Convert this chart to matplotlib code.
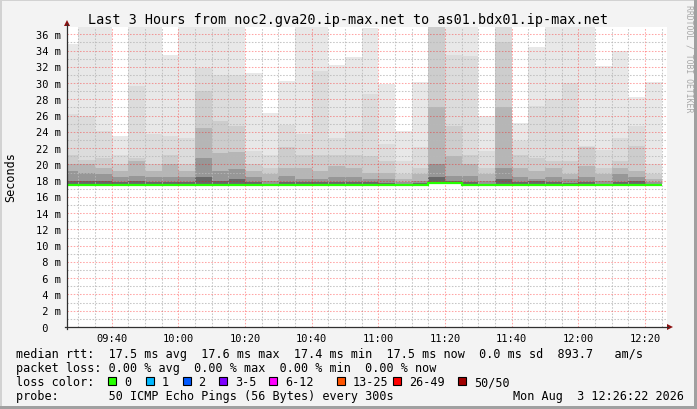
import numpy as np
import matplotlib.pyplot as plt
import matplotlib.transforms as mtransforms
from matplotlib.patches import Rectangle, Polygon
from matplotlib.lines import Line2D

W, H = 697, 410
MONO = 'DejaVu Sans Mono'

# 5 minute buckets, first one starts 09:25, values in ms
first_bucket = 9 * 60 + 25
bucket_len = 5
view_start = 566.6          # 09:26:36, 3 hours window
view_end = view_start + 180

smoke_min = [17.4] * 22 + [17.6, 17.6] + [17.4] * 12
smoke_max = [34.8, 42, 42, 23.5, 42, 42, 33.5, 42, 42, 42, 42, 31.2,
             26.3, 30.3, 42, 42, 32.2, 33.2, 36.8, 29.9, 24.1, 30.1, 42, 42,
             42, 26.0, 42, 25.1, 34.4, 42, 42, 42, 32.1, 34.0, 28.3, 30.1]
layer1 = [26.2, 26.0, 24.1, 21.2, 29.6, 23.7, 23.5, 23.3, 31.9, 31.0, 31.0, 21.6,
          21.2, 24.9, 23.7, 31.5, 23.3, 24.1, 28.6, 22.5, 20.4, 22.1, 41.0, 33.5,
          33.3, 21.6, 41.0, 22.9, 27.2, 28.0, 30.0, 22.3, 21.8, 23.3, 24.7, 20.0]
layer2 = [21.2, 20.6, 20.8, 20.0, 20.8, 20.0, 21.2, 20.0, 29.0, 25.3, 24.7, 20.0,
          19.6, 22.1, 21.2, 21.2, 21.2, 21.2, 21.0, 20.4, 18.8, 19.6, 40.0, 24.7,
          21.2, 19.6, 35.0, 21.2, 20.8, 20.4, 20.4, 22.2, 19.6, 20.4, 22.3, 18.8]
layer3 = [20.0, 20.0, 19.6, 19.2, 20.4, 19.2, 20.0, 19.2, 24.5, 21.4, 21.5, 19.2,
          18.8, 19.6, 19.6, 19.2, 19.8, 19.6, 19.0, 19.0, 18.2, 18.8, 27.0, 21.0,
          20.0, 18.8, 27.0, 19.6, 19.2, 19.6, 18.8, 19.8, 18.8, 19.6, 19.2, 18.2]
layer4 = [19.2, 19.0, 18.8, 18.4, 18.6, 18.4, 18.4, 18.4, 20.8, 19.2, 19.4, 18.4,
          18.0, 18.6, 18.2, 18.2, 18.4, 18.4, 18.2, 18.2, 17.8, 18.0, 20.0, 18.6,
          18.6, 18.0, 19.5, 18.4, 18.2, 18.4, 18.2, 18.4, 18.0, 18.8, 18.4, 17.8]
layer5 = [18.0, 17.9, 18.0, 17.8, 17.9, 17.8, 17.8, 17.8, 18.4, 17.9, 18.2, 17.8,
          17.6, 17.8, 17.8, 17.8, 17.8, 17.8, 17.8, 17.7, 17.6, 17.7, 18.4, 17.9,
          17.8, 17.6, 18.2, 17.8, 17.9, 17.8, 17.7, 17.8, 17.6, 17.8, 18.0, 17.6]
median = [17.5] * 22 + [17.7, 17.7] + [17.5] * 12

smoke_colors = ['#e8e8e8', '#dcdcdc', '#cdcdcd', '#b6b6b6', '#979797', '#686868']

loss_labels = ['0', '1', '2', '3-5', '6-12', '13-25', '26-49', '50/50']
loss_colors = ['#26ff00', '#00b8ff', '#0059ff', '#7e00ff', '#ff00ff',
               '#ff5500', '#ff0000', '#a10000']

title = 'Last 3 Hours from noc2.gva20.ip-max.net to as01.bdx01.ip-max.net'
stats_rtt = ('median rtt:  17.5 ms avg  17.6 ms max  17.4 ms min  '
             '17.5 ms now  0.0 ms sd  893.7   am/s')
stats_loss = 'packet loss: 0.00 % avg  0.00 % max  0.00 % min  0.00 % now'
probe = 'probe:       50 ICMP Echo Pings (56 Bytes) every 300s'
stamp = 'Mon Aug  3 12:26:22 2026'


def fx(px):
    return px / W


def fy(py):
    return 1 - py / H


fig = plt.figure(figsize=(W / 100, H / 100), dpi=100, facecolor='#f3f3f3')

# frame shading
fig.add_artist(Rectangle((0, fy(2)), 1, 2 / H, transform=fig.transFigure,
                         color='#d2d2d2', lw=0))
fig.add_artist(Rectangle((0, 0), 2 / W, 1, transform=fig.transFigure,
                         color='#d2d2d2', lw=0))
fig.add_artist(Rectangle((0, 0), 1, 3 / H, transform=fig.transFigure,
                         color='#a0a0a0', lw=0))
fig.add_artist(Rectangle((fx(W - 3), 0), 3 / W, 1, transform=fig.transFigure,
                         color='#a0a0a0', lw=0))

ax = fig.add_axes([fx(67), fy(328), 600 / W, 300 / H])
ax.set_facecolor('white')
ax.set_xlim(view_start, view_end)
ax.set_ylim(0, 36.9)
for s in ax.spines.values():
    s.set_visible(False)

starts = first_bucket + bucket_len * np.arange(len(smoke_max))
layers = [smoke_max, layer1, layer2, layer3, layer4, layer5]
for vals, col in zip(layers, smoke_colors):
    ax.bar(starts, np.array(vals) - np.array(smoke_min), bottom=smoke_min,
           width=bucket_len, align='edge', color=col, lw=0, zorder=1)

edges = np.append(starts, starts[-1] + bucket_len)
ax.stairs(median, edges, color='#26ff00', lw=1.6, zorder=4, baseline=None)

# grid
major_t = np.arange(580, 746, 20)
ax.set_xticks(major_t)
ax.set_xticks(np.arange(570, 747, 5), minor=True)
ax.set_yticks(np.arange(0, 37, 2))
ax.set_yticks(np.arange(1, 37, 2), minor=True)
ax.tick_params(which='both', length=0, labelbottom=False, labelleft=False)
ax.set_axisbelow(False)
ax.grid(which='minor', color='#b8b8b8', alpha=0.8, lw=0.75, ls=(0, (1.5, 1.5)))
ax.grid(which='major', color='#ff0000', alpha=0.35, lw=0.75, ls=(0, (1.5, 1.5)))

# axis lines and arrows
fig.add_artist(Line2D([fx(67), fx(67)], [fy(330), fy(25)],
                      transform=fig.transFigure, color='#303030', lw=0.9))
fig.add_artist(Line2D([fx(65), fx(668)], [fy(328), fy(328)],
                      transform=fig.transFigure, color='#303030', lw=0.9))
fig.add_artist(Polygon([[fx(64), fy(27)], [fx(70), fy(27)], [fx(67), fy(21)]],
                       closed=True, transform=fig.transFigure, color='#8b1010', lw=0))
fig.add_artist(Polygon([[fx(667), fy(325)], [fx(667), fy(331)], [fx(673), fy(328)]],
                       closed=True, transform=fig.transFigure, color='#8b1010', lw=0))

# tick labels
ytrans = mtransforms.offset_copy(
    mtransforms.blended_transform_factory(fig.transFigure, ax.transData),
    fig=fig, y=-3.5, units='dots')
for v in range(0, 37, 2):
    lab = f'{v:2d} m' if v else ' 0'
    ax.text(fx(36), v, lab, transform=ytrans, family=MONO, fontsize=7.5,
            ha='left', va='baseline', clip_on=False)
xtrans = mtransforms.blended_transform_factory(ax.transData, fig.transFigure)
for m in major_t:
    ax.text(m, fy(342), f'{m // 60:02d}:{m % 60:02d}', transform=xtrans,
            family=MONO, fontsize=7.5, ha='center', va='baseline', clip_on=False)

fig.text(fx(348), fy(24), title, family=MONO, fontsize=9.75,
         ha='center', va='baseline')
fig.text(fx(11), fy(177), 'Seconds', family=MONO, fontsize=8.5,
         rotation=90, ha='center', va='center')
fig.text(fx(688.5), fy(5), 'RRDTOOL / TOBI OETIKER', family=MONO, fontsize=5.9,
         rotation=-90, ha='center', va='top', color='#a8a8a8')

# legend rows
fig.text(fx(16), fy(358.5), stats_rtt, family=MONO, fontsize=8.5, va='baseline')
fig.text(fx(16), fy(372.3), stats_loss, family=MONO, fontsize=8.5, va='baseline')
fig.text(fx(16), fy(386.1), 'loss color:', family=MONO, fontsize=8.5, va='baseline')
box_x = [108.3, 146, 182.7, 219.3, 269.3, 336.7, 393.3, 458.3]
for bx, lab, col in zip(box_x, loss_labels, loss_colors):
    fig.add_artist(Rectangle((fx(bx), fy(386)), 8 / W, 8 / H,
                             transform=fig.transFigure, facecolor=col,
                             edgecolor='black', lw=0.8))
    fig.text(fx(bx + 15.7), fy(386.1), lab, family=MONO, fontsize=8.5,
             va='baseline')
fig.text(fx(16), fy(399.9), probe, family=MONO, fontsize=8.5, va='baseline')
fig.text(fx(684), fy(399.9), stamp, family=MONO, fontsize=8.5,
         ha='right', va='baseline')

fig.savefig('out.png', dpi=100, facecolor=fig.get_facecolor())
